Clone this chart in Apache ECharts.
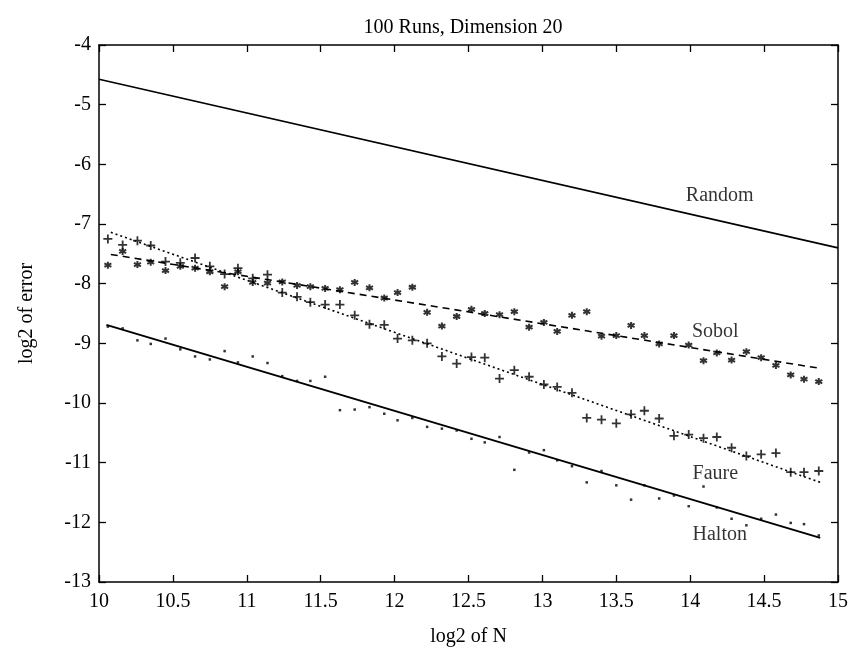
<!DOCTYPE html>
<html>
<head>
<meta charset="utf-8">
<script src="https://cdn.jsdelivr.net/npm/echarts@6/dist/echarts.min.js"></script>
<style>html,body{margin:0;padding:0;background:#fff}#c{width:855px;height:662px}</style>
</head>
<body>
<div id="c"></div>
<script>
const titleText = '100 Runs, Dimension 20';
const xName = 'log2 of N';
const yName = 'log2 of error';

const logN = [10.06,10.16,10.26,10.35,10.45,10.55,10.65,10.75,10.85,10.94,
  11.04,11.14,11.24,11.34,11.43,11.53,11.63,11.73,11.83,11.93,
  12.02,12.12,12.22,12.32,12.42,12.52,12.61,12.71,12.81,12.91,
  13.01,13.10,13.20,13.30,13.40,13.50,13.60,13.69,13.79,13.89,
  13.99,14.09,14.18,14.28,14.38,14.48,14.58,14.68,14.77,14.87];

const sobol = [-7.69,-7.46,-7.68,-7.64,-7.78,-7.71,-7.74,-7.80,-8.05,-7.80,
  -7.98,-7.99,-7.97,-8.03,-8.05,-8.08,-8.10,-7.98,-8.07,-8.24,
  -8.15,-8.06,-8.48,-8.71,-8.55,-8.43,-8.50,-8.52,-8.47,-8.73,
  -8.65,-8.80,-8.53,-8.47,-8.88,-8.87,-8.70,-8.87,-9.01,-8.87,
  -9.03,-9.29,-9.16,-9.28,-9.14,-9.24,-9.37,-9.53,-9.60,-9.64];

const faure = [-7.25,-7.35,-7.28,-7.36,-7.63,-7.65,-7.57,-7.71,-7.84,-7.74,
  -7.91,-7.85,-8.15,-8.22,-8.31,-8.35,-8.35,-8.53,-8.68,-8.69,
  -8.92,-8.95,-9.00,-9.22,-9.34,-9.23,-9.24,-9.59,-9.45,-9.56,
  -9.69,-9.73,-9.83,-10.25,-10.28,-10.34,-10.19,-10.13,-10.26,-10.55,
  -10.53,-10.59,-10.57,-10.75,-10.89,-10.86,-10.84,-11.16,-11.16,-11.14];

const halton = [-8.72,-8.75,-8.95,-9.01,-8.92,-9.10,-9.22,-9.27,-9.13,-9.32,
  -9.22,-9.33,-9.55,-9.63,-9.63,-9.56,-10.12,-10.11,-10.07,-10.18,
  -10.29,-10.25,-10.40,-10.43,-10.46,-10.60,-10.66,-10.57,-11.12,-10.83,
  -10.79,-10.96,-11.06,-11.33,-11.14,-11.38,-11.62,-11.38,-11.60,-11.55,
  -11.73,-11.40,-11.75,-11.94,-12.05,-11.94,-11.87,-12.01,-12.03,-12.22];

const randomFit = [[10.0,-4.575],[15.0,-7.4]];
const sobolFit = [[10.08,-7.51],[14.88,-9.42]];
const faureFit = [[10.08,-7.14],[14.88,-11.33]];
const haltonFit = [[10.05,-8.69],[14.88,-12.26]];

const labelNames = ['Random','Sobol','Faure','Halton'];
const labelX = [14.2,14.17,14.17,14.2];
const labelY = [-6.53,-8.81,-11.19,-12.21];

const FONT = 'Liberation Serif';
const pts = ys => logN.map((x,i)=>[x,ys[i]]);

const chart = echarts.init(document.getElementById('c'), null, {renderer:'canvas'});
const axisCommon = {
  axisLine:{show:true,onZero:false,lineStyle:{color:'#000',width:1.5}},
  axisTick:{show:true,inside:true,length:7,lineStyle:{color:'#000',width:1.3}},
  splitLine:{show:false}
};
chart.setOption({
  animation:false,
  backgroundColor:'#fff',
  title:{text:titleText,left:458,textAlign:'center',top:13,
    textStyle:{fontFamily:FONT,fontSize:20,fontWeight:'normal',color:'#000'}},
  grid:{left:99,right:17,top:45,bottom:80},
  xAxis:[
    Object.assign({type:'value',min:10,max:15,interval:0.5,position:'bottom',
      name:xName,nameLocation:'middle',nameGap:45,
      nameTextStyle:{fontFamily:FONT,fontSize:20,color:'#000'},
      axisLabel:{fontFamily:FONT,fontSize:20,color:'#000',margin:10}},axisCommon),
    Object.assign({type:'value',min:10,max:15,interval:0.5,position:'top',
      axisLabel:{show:false}},axisCommon)
  ],
  yAxis:[
    Object.assign({type:'value',min:-13,max:-4,interval:1,position:'left',
      name:yName,nameLocation:'middle',nameGap:62,
      nameTextStyle:{fontFamily:FONT,fontSize:20,color:'#000'},
      axisLabel:{fontFamily:FONT,fontSize:20,color:'#000',margin:8}},axisCommon),
    Object.assign({type:'value',min:-13,max:-4,interval:1,position:'right',
      axisLabel:{show:false}},axisCommon)
  ],
  series:[
    {type:'line',data:randomFit,symbol:'none',lineStyle:{color:'#000',width:1.6}},
    {type:'line',data:sobolFit,symbol:'none',lineStyle:{color:'#000',width:1.6,type:[7,5]}},
    {type:'line',data:faureFit,symbol:'none',lineStyle:{color:'#000',width:1.6,type:[2,3]}},
    {type:'line',data:haltonFit,symbol:'none',lineStyle:{color:'#000',width:2}},
    {type:'scatter',data:pts(sobol),symbol:'path://M5,0L5,10M0.67,2.5L9.33,7.5M0.67,7.5L9.33,2.5',
      symbolSize:7,itemStyle:{color:'none',borderColor:'#000',borderWidth:2}},
    {type:'scatter',data:pts(faure),symbol:'path://M5,0L5,10M0,5L10,5',
      symbolSize:9,itemStyle:{color:'none',borderColor:'#000',borderWidth:1.8}},
    {type:'scatter',data:pts(halton),symbol:'rect',symbolSize:2.5,itemStyle:{color:'#000'}},
    {type:'scatter',symbolSize:0,
      data:labelNames.map((n,i)=>({value:[labelX[i],labelY[i]],name:n})),
      label:{show:true,position:'inside',formatter:p=>p.name,
        fontFamily:FONT,fontSize:20,color:'#000'}}
  ]
});
</script>
</body>
</html>
